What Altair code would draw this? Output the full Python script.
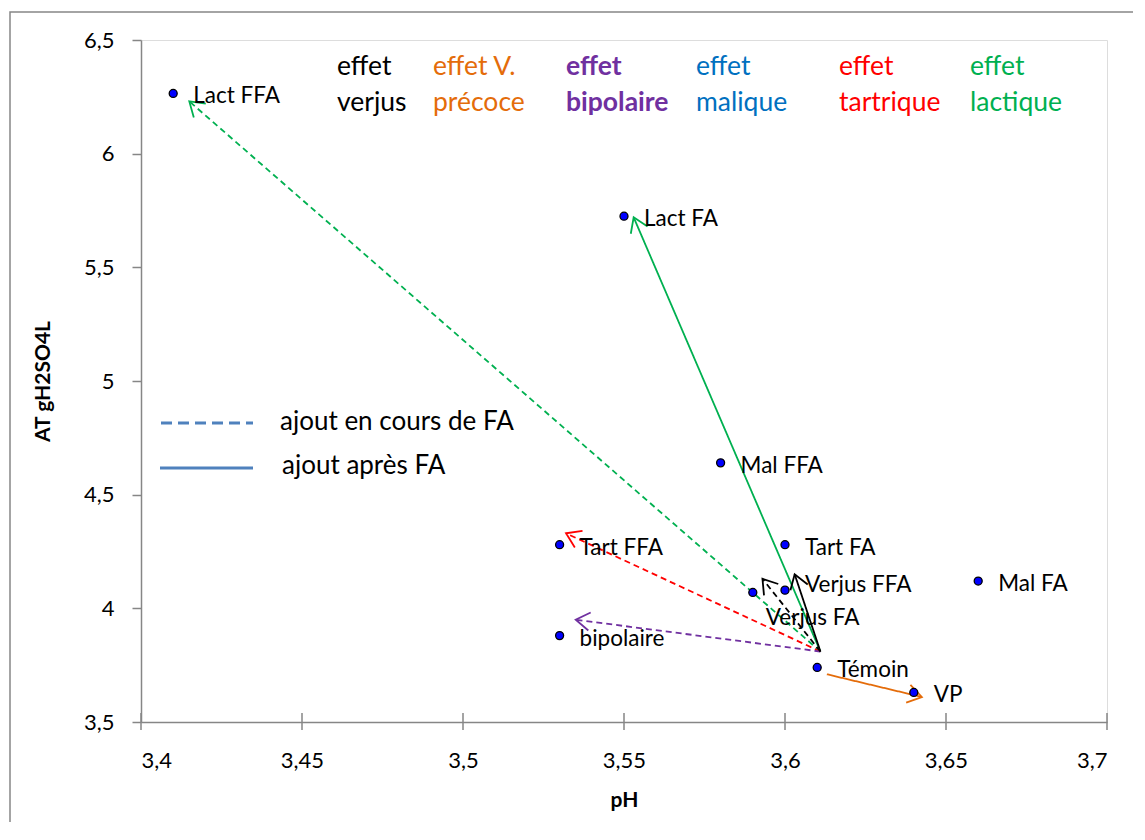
import math
import altair as alt
import pandas as pd

# ---------------- data ----------------
point_labels = ["Lact FFA", "Lact FA", "Mal FFA", "Tart FFA", "Tart FA", "Mal FA",
                "Verjus FFA", "Verjus FA", "bipolaire", "Témoin", "VP"]
point_ph = [3.41, 3.55, 3.58, 3.53, 3.60, 3.66, 3.60, 3.59, 3.53, 3.61, 3.64]
point_at = [6.265, 5.725, 4.64, 4.28, 4.28, 4.12, 4.08, 4.07, 3.88, 3.74, 3.63]

arrow_effect = ["lactique", "lactique", "tartrique", "bipolaire", "verjus", "verjus", "précoce"]
arrow_type = ["dashed", "solid", "dashed", "dashed", "dashed", "solid", "solid"]
arrow_x1 = [3.611, 3.611, 3.611, 3.611, 3.611, 3.611, 3.613]
arrow_y1 = [3.81, 3.81, 3.81, 3.81, 3.81, 3.81, 3.71]
arrow_x2 = [3.415, 3.553, 3.532, 3.535, 3.593, 3.603, 3.6425]
arrow_y2 = [6.23, 5.72, 4.33, 3.95, 4.13, 4.15, 3.61]

effect_names = ["verjus", "précoce", "bipolaire", "malique", "tartrique", "lactique"]
effect_colors = ["#000000", "#E46C0A", "#7030A0", "#0070C0", "#FF0000", "#00B050"]
legend_line1 = ["effet", "effet V.", "effet", "effet", "effet", "effet"]
legend_line2 = ["verjus", "précoce", "bipolaire", "malique", "tartrique", "lactique"]
legend_bold = [False, False, True, False, False, False]

style_labels = ["ajout en cours de FA", "ajout après FA"]

x_ticks = [3.4, 3.45, 3.5, 3.55, 3.6, 3.65, 3.7]
y_ticks = [3.5, 4.0, 4.5, 5.0, 5.5, 6.0, 6.5]

# ---------------- layout ----------------
W, H = 966, 682
PAD = {"left": 133, "top": 32, "right": 26, "bottom": 100}
FONT = "Lato"
GRAY = "#868686"
XDOM = [3.4, 3.7]
YDOM = [3.5, 6.5]
sx = W / (XDOM[1] - XDOM[0])
sy = H / (YDOM[1] - YDOM[0])

pts = pd.DataFrame({"label": point_labels, "ph": point_ph, "at": point_at})

arr = pd.DataFrame({"effet": arrow_effect, "type": arrow_type,
                    "x1": arrow_x1, "y1": arrow_y1, "x2": arrow_x2, "y2": arrow_y2})
arr["angle"] = [
    math.degrees(math.atan2((a2 - a1) * sx, (b2 - b1) * sy)) % 360
    for a1, b1, a2, b2 in zip(arr.x1, arr.y1, arr.x2, arr.y2)
]

xs = alt.Scale(domain=XDOM, nice=False, zero=False)
ys = alt.Scale(domain=YDOM, nice=False, zero=False)
cscale = alt.Scale(domain=effect_names, range=effect_colors)
dscale = alt.Scale(domain=["dashed", "solid"], range=[[6, 4], [1, 0]])

lab_expr = "replace(format(datum.value, '.2~f'), '.', ',')"
x_axis = alt.Axis(values=x_ticks, labelExpr=lab_expr, grid=False, domainColor=GRAY,
                  ticks=False, labelFont=FONT, labelFontSize=22,
                  labelColor="#000000", labelPadding=28, title="pH", titleFont=FONT,
                  titleFontSize=21, titleFontWeight="bold", titleColor="#000000",
                  titlePadding=18, domainWidth=1.5)
y_axis = alt.Axis(values=y_ticks, labelExpr=lab_expr, grid=False, domainColor=GRAY,
                  tickColor=GRAY, tickSize=9, tickWidth=1.5, labelFont=FONT, labelFontSize=22,
                  labelColor="#000000", labelPadding=18, title="AT gH2SO4L", titleFont=FONT,
                  titleFontSize=21, titleFontWeight="bold", titleColor="#000000",
                  titlePadding=30, domainWidth=1.5)

base_pts = alt.Chart(pts)
one = pd.DataFrame({"k": [0]})

# outer chart border (right and bottom edges fall outside the picture)
border = alt.Chart(one).mark_rect(
    fill=None, stroke=GRAY, strokeWidth=1.5
).encode(x=alt.value(-131), x2=alt.value(W + PAD["right"] + 40),
         y=alt.value(-28), y2=alt.value(H + PAD["bottom"] + 40))

# x ticks crossing the axis
xtick_marks = alt.Chart(pd.DataFrame({"t": x_ticks})).mark_rule(
    color=GRAY, strokeWidth=1.5
).encode(x=alt.X("t:Q", scale=xs), y=alt.value(H - 9), y2=alt.value(H + 8))

lines = alt.Chart(arr).mark_rule(strokeWidth=1.8).encode(
    x=alt.X("x1:Q", scale=xs, axis=x_axis),
    y=alt.Y("y1:Q", scale=ys, axis=y_axis),
    x2="x2:Q", y2="y2:Q",
    color=alt.Color("effet:N", scale=cscale, legend=None),
    strokeDash=alt.StrokeDash("type:N", scale=dscale, legend=None),
)

heads = alt.Chart(arr).mark_point(
    shape="M -0.55 0.84 L 0 0 L 0.55 0.84", filled=False, size=1100,
    strokeWidth=1.8, opacity=1
).encode(
    x=alt.X("x2:Q", scale=xs), y=alt.Y("y2:Q", scale=ys),
    angle=alt.Angle("angle:Q", scale=None),
    color=alt.Color("effet:N", scale=cscale, legend=None),
)

dots = base_pts.mark_circle(size=64, color="#0000FF", stroke="#000000",
                            strokeWidth=1.3, opacity=1).encode(
    x=alt.X("ph:Q", scale=xs), y=alt.Y("at:Q", scale=ys))

special = {"Verjus FA": (13, 26), "Verjus FFA": (20, -5)}
normal = [l for l in point_labels if l not in special]
labels = [
    base_pts.transform_filter(alt.FieldOneOfPredicate(field="label", oneOf=normal))
    .mark_text(align="left", baseline="middle", dx=20, dy=3, font=FONT, fontSize=22.5,
               color="#000000")
    .encode(x=alt.X("ph:Q", scale=xs), y=alt.Y("at:Q", scale=ys), text="label:N")
]
for name, (ddx, ddy) in special.items():
    labels.append(
        base_pts.transform_filter(alt.datum.label == name)
        .mark_text(align="left", baseline="middle", dx=ddx, dy=ddy, font=FONT,
                   fontSize=22.5, color="#000000")
        .encode(x=alt.X("ph:Q", scale=xs), y=alt.Y("at:Q", scale=ys), text="label:N")
    )

# top text legend
legend_x = [196, 292, 425, 555, 698, 829]
tops = []
for i in range(len(effect_names)):
    for row, txt in enumerate([legend_line1[i], legend_line2[i]]):
        tops.append(
            alt.Chart(one).mark_text(
                align="left", baseline="middle", font=FONT, fontSize=26.5,
                fontWeight="bold" if legend_bold[i] else "normal",
                color=effect_colors[i], text=txt
            ).encode(x=alt.value(legend_x[i]), y=alt.value(27 + 36 * row))
        )

# line style legend
style = [
    alt.Chart(one).mark_rule(color="#4F81BD", strokeWidth=3, strokeDash=[11, 6]).encode(
        x=alt.value(20), x2=alt.value(112), y=alt.value(383)),
    alt.Chart(one).mark_rule(color="#4F81BD", strokeWidth=3).encode(
        x=alt.value(19), x2=alt.value(112), y=alt.value(428)),
    alt.Chart(one).mark_text(align="left", baseline="middle", font=FONT, fontSize=26,
                             color="#000000", text=style_labels[0]).encode(
        x=alt.value(139), y=alt.value(382)),
    alt.Chart(one).mark_text(align="left", baseline="middle", font=FONT, fontSize=26,
                             color="#000000", text=style_labels[1]).encode(
        x=alt.value(141), y=alt.value(426)),
]

chart = alt.layer(lines, xtick_marks, heads, dots, *labels, *tops, *style, border).properties(
    width=W, height=H,
    autosize=alt.AutoSizeParams(type="none"),
    padding=PAD,
).configure_view(stroke=GRAY, strokeWidth=1.5).configure(background="white")

chart.save("out.html", embed_options={"renderer": "svg", "actions": False})
